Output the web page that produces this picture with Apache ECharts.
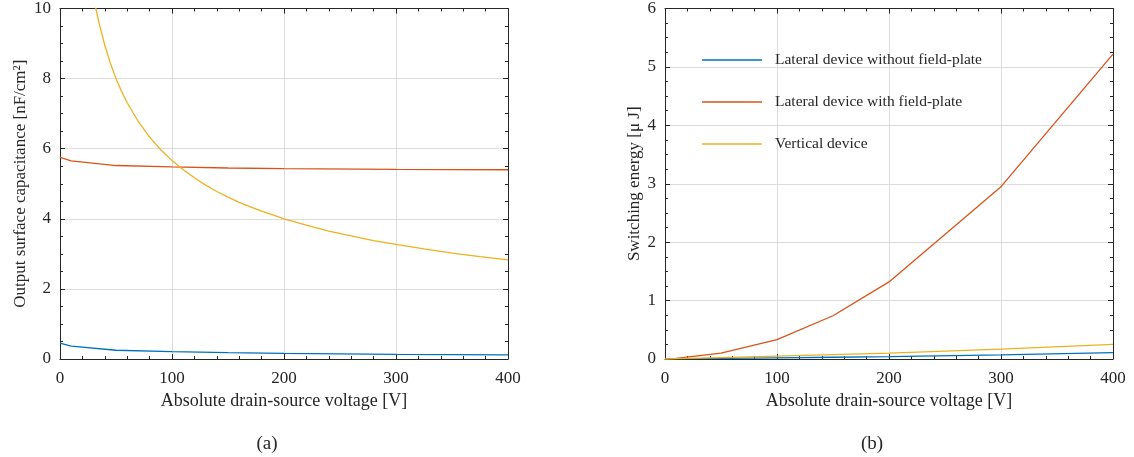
<!DOCTYPE html>
<html><head><meta charset="utf-8">
<script src="https://cdn.jsdelivr.net/npm/echarts@6/dist/echarts.min.js"></script>
<style>html,body{margin:0;padding:0;background:#fff}#c{width:1134px;height:457px}</style>
</head><body><div id="c"></div>
<script>
// ---- data ----
const seriesNames = ['Lateral device without field-plate', 'Lateral device with field-plate', 'Vertical device'];
const colors = ['#0072BD', '#D95319', '#EDB120'];
// (a) output surface capacitance [nF/cm^2]
const capLateralV = [0, 10, 50, 100, 150, 200, 300, 400];
const capNoFP = [0.45, 0.37, 0.25, 0.21, 0.18, 0.16, 0.13, 0.12];
const capFP = [5.75, 5.65, 5.52, 5.48, 5.45, 5.43, 5.41, 5.40];
const capVertV = [30, 32, 35, 40, 45, 50, 55, 60, 70, 80, 90, 100, 110, 120, 130, 140, 150, 160, 170, 180, 190, 200, 220, 240, 260, 280, 300, 325, 350, 375, 400];
const capVert = [10.33, 10.0, 9.57, 8.95, 8.44, 8.0, 7.63, 7.31, 6.77, 6.33, 5.97, 5.66, 5.40, 5.17, 4.96, 4.78, 4.62, 4.47, 4.34, 4.22, 4.11, 4.0, 3.82, 3.65, 3.51, 3.38, 3.27, 3.14, 3.02, 2.92, 2.83];
// (b) switching energy [uJ]
const energyV = [0, 10, 50, 100, 150, 200, 300, 400];
const energyNoFP = [0, 0.003, 0.01, 0.02, 0.03, 0.04, 0.07, 0.11];
const energyFP = [0, 0.01, 0.1, 0.33, 0.74, 1.32, 2.95, 5.22];
const energyVert = [0, 0.005, 0.025, 0.05, 0.075, 0.1, 0.17, 0.25];

const pair = (xs, ys) => xs.map((x, i) => [x, ys[i]]);
const FONT = 'Liberation Serif';
const axisColor = '#262626';
const textColor = '#262626';
const gridLineColor = '#dcdcdc';

function xAx(gi, pos, show) {
  return {
    type: 'value', gridIndex: gi, position: pos, min: 0, max: 400, interval: 100,
    name: show ? 'Absolute drain-source voltage [V]' : '', nameLocation: 'middle', nameGap: 33,
    nameTextStyle: {fontFamily: FONT, fontSize: 18, color: textColor},
    axisLine: {show: true, onZero: false, lineStyle: {color: axisColor, width: 1}},
    axisTick: {show: true, inside: true, length: 5, lineStyle: {color: axisColor}},
    minorTick: {show: true, splitNumber: 5, length: 3, lineStyle: {color: axisColor}},
    axisLabel: {show: show, fontFamily: FONT, fontSize: 17, color: textColor, margin: 11},
    splitLine: {show: show, lineStyle: {color: gridLineColor}},
  };
}
function yAx(gi, pos, show, max, interval, name, gap) {
  return {
    type: 'value', gridIndex: gi, position: pos, min: 0, max: max, interval: interval,
    name: show ? name : '', nameLocation: 'middle', nameGap: gap,
    nameTextStyle: {fontFamily: FONT, fontSize: 17, color: textColor},
    axisLine: {show: true, onZero: false, lineStyle: {color: axisColor, width: 1}},
    axisTick: {show: true, inside: true, length: 5, lineStyle: {color: axisColor}},
    minorTick: {show: true, splitNumber: 4, length: 3, lineStyle: {color: axisColor}},
    axisLabel: {show: show, fontFamily: FONT, fontSize: 17, color: textColor, margin: 9},
    splitLine: {show: show, lineStyle: {color: gridLineColor}},
  };
}
function line(name, data, xi, yi, ci) {
  return {name, type: 'line', data, xAxisIndex: xi, yAxisIndex: yi, symbol: 'none',
    lineStyle: {width: 1.3, color: colors[ci]}, itemStyle: {color: colors[ci]}, clip: true, silent: true};
}

const chart = echarts.init(document.getElementById('c'), null, {renderer: 'canvas'});
chart.setOption({
  animation: false,
  backgroundColor: '#fff',
  textStyle: {fontFamily: FONT},
  title: [
    {text: '(a)', left: 262, top: 430, textAlign: 'center', textStyle: {fontFamily: FONT, fontSize: 19, fontWeight: 'normal', color: textColor}},
    {text: '(b)', left: 867, top: 430, textAlign: 'center', textStyle: {fontFamily: FONT, fontSize: 19, fontWeight: 'normal', color: textColor}},
  ],
  grid: [
    {left: 60, right: 626, top: 8, bottom: 98},
    {left: 665, right: 21, top: 8, bottom: 98},
  ],
  legend: {
    orient: 'vertical', left: 697, top: 47, itemGap: 26, itemWidth: 60, itemHeight: 1.5, icon: 'rect',
    data: seriesNames, selectedMode: false,
    textStyle: {fontFamily: FONT, fontSize: 15.5, color: textColor, padding: [0, 0, 0, 8], lineHeight: 16},
  },
  xAxis: [xAx(0, 'bottom', true), xAx(0, 'top', false), xAx(1, 'bottom', true), xAx(1, 'top', false)],
  yAxis: [
    yAx(0, 'left', true, 10, 2, 'Output surface capacitance [nF/cm²]', 31), yAx(0, 'right', false, 10, 2, '', 0),
    yAx(1, 'left', true, 6, 1, 'Switching energy [μ J]', 22), yAx(1, 'right', false, 6, 1, '', 0),
  ],
  series: [
    line(seriesNames[0], pair(capLateralV, capNoFP), 0, 0, 0),
    line(seriesNames[1], pair(capLateralV, capFP), 0, 0, 1),
    line(seriesNames[2], pair(capVertV, capVert), 0, 0, 2),
    line(seriesNames[0], pair(energyV, energyNoFP), 2, 2, 0),
    line(seriesNames[1], pair(energyV, energyFP), 2, 2, 1),
    line(seriesNames[2], pair(energyV, energyVert), 2, 2, 2),
  ],
});
</script></body></html>
